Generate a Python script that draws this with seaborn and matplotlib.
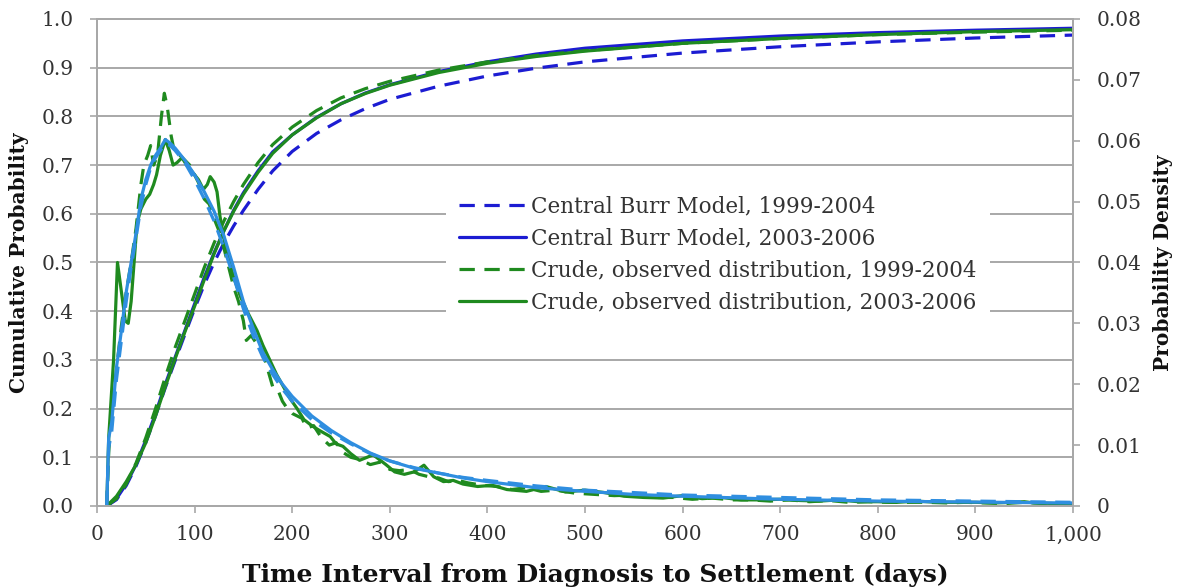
import numpy as np
import matplotlib
matplotlib.use("Agg")
import matplotlib.pyplot as plt
from matplotlib.ticker import FixedLocator, FuncFormatter
import seaborn as sns

# ---- cumulative probability (left axis) ----
cdf_days = [10, 20, 30, 40, 50, 60, 70, 80, 90, 100, 110, 120, 130, 140, 150,
            165, 180, 200, 225, 250, 275, 300, 350, 400, 450, 500, 600, 700,
            800, 900, 1000]
burr_cdf_1999_2004 = [0.0, 0.013, 0.042, 0.082, 0.13, 0.185, 0.243, 0.298,
                      0.352, 0.405, 0.455, 0.5, 0.54, 0.575, 0.607, 0.65,
                      0.688, 0.728, 0.765, 0.793, 0.816, 0.835, 0.862, 0.883,
                      0.899, 0.912, 0.93, 0.943, 0.953, 0.961, 0.967]
burr_cdf_2003_2006 = [0.0, 0.015, 0.045, 0.085, 0.135, 0.19, 0.25, 0.305,
                      0.36, 0.415, 0.47, 0.52, 0.565, 0.607, 0.643, 0.688,
                      0.727, 0.762, 0.798, 0.826, 0.848, 0.865, 0.892, 0.912,
                      0.928, 0.94, 0.955, 0.965, 0.972, 0.977, 0.981]
obs_cdf_1999_2004 = [0.0, 0.015, 0.045, 0.088, 0.14, 0.2, 0.265, 0.325, 0.38,
                     0.435, 0.49, 0.54, 0.585, 0.625, 0.66, 0.705, 0.742,
                     0.778, 0.812, 0.838, 0.857, 0.872, 0.895, 0.912, 0.925,
                     0.935, 0.95, 0.96, 0.968, 0.973, 0.977]
obs_cdf_2003_2006 = [0.0, 0.02, 0.05, 0.085, 0.13, 0.185, 0.245, 0.302, 0.357,
                     0.41, 0.465, 0.518, 0.565, 0.605, 0.64, 0.685, 0.724,
                     0.762, 0.797, 0.826, 0.847, 0.864, 0.89, 0.909, 0.923,
                     0.934, 0.95, 0.96, 0.968, 0.974, 0.978]

# ---- probability density (right axis) ----
pdf_days = [10, 12, 15, 20, 25, 30, 35, 40, 45, 50, 55, 60, 65, 70, 75, 80,
            90, 100, 110, 120, 130, 140, 150, 160, 170, 180, 190, 200, 220,
            240, 260, 280, 300, 325, 350, 375, 400, 450, 500, 550, 600, 700,
            800, 900, 1000]
burr_pdf_1999_2004 = [0.0, 0.0096, 0.012, 0.0208, 0.0272, 0.0336, 0.0392,
                      0.044, 0.0492, 0.0528, 0.0556, 0.0572, 0.0584, 0.0596,
                      0.0592, 0.0584, 0.0564, 0.0536, 0.0504, 0.0468, 0.0424,
                      0.0376, 0.0324, 0.028, 0.0244, 0.0216, 0.0192, 0.0172,
                      0.0142, 0.012, 0.0102, 0.0086, 0.0074, 0.0063, 0.0054,
                      0.0047, 0.0042, 0.0033, 0.0026, 0.0022, 0.0018, 0.0014,
                      0.001, 0.0008, 0.0006]
burr_pdf_2003_2006 = [0.0, 0.0112, 0.0136, 0.0228, 0.0288, 0.0352, 0.04,
                      0.0448, 0.0504, 0.0536, 0.056, 0.0576, 0.0588, 0.0602,
                      0.0596, 0.0588, 0.0568, 0.0544, 0.0516, 0.0484, 0.0444,
                      0.0392, 0.0336, 0.0292, 0.0252, 0.0224, 0.02, 0.018,
                      0.0148, 0.0124, 0.0104, 0.0087, 0.0074, 0.0062, 0.0054,
                      0.0046, 0.004, 0.003, 0.0024, 0.0019, 0.0016, 0.0011,
                      0.0008, 0.00064, 0.00048]

obs_days_1999_2004 = [10, 12, 15, 20, 25, 30, 35, 40, 45, 48, 52, 55, 58, 62,
                      66, 69, 72, 76, 80, 85, 90, 95, 100, 105, 110, 115, 120,
                      125, 130, 135, 140, 145, 150, 153, 158, 163, 168, 175,
                      180, 185, 190, 195, 200, 210, 215, 222, 230, 238, 245,
                      252, 260, 270, 280, 290, 300, 310, 320, 330, 340, 350,
                      360, 370, 380, 395, 410, 425, 440, 455, 470, 490, 510,
                      530, 550, 570, 590, 610, 630, 650, 670, 690, 710, 730,
                      750, 770, 790, 810, 830, 850, 870, 890, 910, 930, 950,
                      970, 1000]
obs_pdf_1999_2004 = [0.0, 0.0088, 0.016, 0.0224, 0.0296, 0.0352, 0.04,
                     0.0456, 0.0528, 0.056, 0.0576, 0.0592, 0.056, 0.0576,
                     0.064, 0.0678, 0.0656, 0.0608, 0.0576, 0.0576, 0.0568,
                     0.056, 0.0544, 0.0528, 0.0504, 0.0496, 0.0472, 0.0452,
                     0.0424, 0.0392, 0.036, 0.0336, 0.0304, 0.0272, 0.028,
                     0.0268, 0.0264, 0.0224, 0.0196, 0.0192, 0.0172, 0.016,
                     0.0152, 0.0144, 0.0128, 0.0132, 0.0112, 0.01, 0.0104,
                     0.0088, 0.008, 0.0076, 0.0068, 0.0072, 0.006, 0.0058,
                     0.006, 0.0052, 0.0048, 0.0046, 0.004, 0.0042, 0.0038,
                     0.0034, 0.0032, 0.0027, 0.003, 0.0024, 0.0026, 0.0021,
                     0.0019, 0.0017, 0.0018, 0.0014, 0.0014, 0.0011, 0.0013,
                     0.001, 0.001, 0.0008, 0.001, 0.0007, 0.0009, 0.0006,
                     0.0007, 0.0006, 0.0006, 0.0006, 0.0005, 0.0006, 0.0005,
                     0.0004, 0.0006, 0.0004, 0.0004]

obs_days_2003_2006 = [10, 12, 17, 21, 25, 29, 32, 35, 38, 41, 45, 50, 54, 58,
                      61, 65, 70, 74, 78, 82, 87, 92, 98, 104, 109, 113, 116,
                      120, 123, 126, 130, 133, 140, 147, 155, 164, 170, 177,
                      184, 191, 198, 205, 212, 220, 228, 239, 245, 252, 260,
                      269, 283, 296, 305, 315, 325, 335, 345, 355, 365, 375,
                      390, 405, 420, 440, 460, 480, 500, 520, 540, 560, 580,
                      600, 620, 640, 660, 680, 700, 720, 740, 760, 780, 800,
                      820, 840, 860, 880, 900, 920, 940, 950, 960, 980, 1000]
obs_pdf_2003_2006 = [0.0, 0.0112, 0.024, 0.04, 0.0352, 0.0304, 0.03, 0.0336,
                     0.04, 0.0464, 0.0488, 0.0504, 0.0512, 0.0528, 0.0544,
                     0.0576, 0.0602, 0.0584, 0.056, 0.0564, 0.0572, 0.056,
                     0.0548, 0.0536, 0.052, 0.0528, 0.0541, 0.0532, 0.0516,
                     0.0476, 0.044, 0.0416, 0.0376, 0.0344, 0.0316, 0.0288,
                     0.0264, 0.024, 0.0216, 0.0196, 0.0176, 0.016, 0.0142,
                     0.0132, 0.0124, 0.0114, 0.0102, 0.0098, 0.0086, 0.0075,
                     0.0084, 0.0068, 0.0056, 0.0052, 0.0056, 0.0067, 0.0048,
                     0.004, 0.0042, 0.0036, 0.0032, 0.0034, 0.0027, 0.0024,
                     0.0032, 0.0023, 0.0026, 0.0022, 0.0016, 0.0014, 0.0013,
                     0.0017, 0.0012, 0.0014, 0.001, 0.001, 0.0011, 0.0009,
                     0.0008, 0.001, 0.0007, 0.0007, 0.0006, 0.0008, 0.0006,
                     0.0006, 0.0006, 0.0005, 0.0006, 0.0007, 0.0005, 0.0004,
                     0.0004]

legend_labels = ["Central Burr Model, 1999-2004",
                 "Central Burr Model, 2003-2006",
                 "Crude, observed distribution, 1999-2004",
                 "Crude, observed distribution, 2003-2006"]
x_ticks = [0, 100, 200, 300, 400, 500, 600, 700, 800, 900, 1000]
left_ticks = [0.0, 0.1, 0.2, 0.3, 0.4, 0.5, 0.6, 0.7, 0.8, 0.9, 1.0]
right_ticks = [0, 0.01, 0.02, 0.03, 0.04, 0.05, 0.06, 0.07, 0.08]

# ---- style ----
sns.set_theme(style="white")
plt.rcParams["font.family"] = ["DejaVu Serif"]
plt.rcParams["axes.unicode_minus"] = False

DARK_BLUE = "#1c1cd2"
LIGHT_BLUE = "#2f8ee0"
GREEN = "#1f8a1f"
GRID = "#a8a8a8"
TEXT = "#333333"
LW = 2.3
DASH = (0, (4.8, 3.0))

fig = plt.figure(figsize=(11.9, 5.88), dpi=100)
ax = fig.add_axes([0.0815, 0.1395, 0.8202, 0.8282])
ax2 = ax.twinx()

# cumulative curves
sns.lineplot(x=cdf_days, y=burr_cdf_1999_2004, ax=ax, color=DARK_BLUE,
             lw=LW, linestyle=DASH, label=legend_labels[0])
sns.lineplot(x=cdf_days, y=burr_cdf_2003_2006, ax=ax, color=DARK_BLUE,
             lw=LW, label=legend_labels[1])
sns.lineplot(x=cdf_days, y=obs_cdf_1999_2004, ax=ax, color=GREEN,
             lw=LW, linestyle=DASH, label=legend_labels[2])
sns.lineplot(x=cdf_days, y=obs_cdf_2003_2006, ax=ax, color=GREEN,
             lw=LW, label=legend_labels[3])

# density curves
sns.lineplot(x=obs_days_1999_2004, y=obs_pdf_1999_2004, ax=ax2, color=GREEN,
             lw=LW, linestyle=DASH, legend=False)
sns.lineplot(x=obs_days_2003_2006, y=obs_pdf_2003_2006, ax=ax2, color=GREEN,
             lw=LW, legend=False)
sns.lineplot(x=pdf_days, y=burr_pdf_2003_2006, ax=ax2, color=LIGHT_BLUE,
             lw=LW, legend=False)
sns.lineplot(x=pdf_days, y=burr_pdf_1999_2004, ax=ax2, color=LIGHT_BLUE,
             lw=LW, linestyle=DASH, legend=False)

# axes ranges and ticks
ax.set_xlim(0, 1000)
ax.set_ylim(0, 1.0)
ax2.set_ylim(0, 0.08)
ax.xaxis.set_major_locator(FixedLocator(x_ticks))
ax.xaxis.set_major_formatter(FuncFormatter(lambda v, p: f"{int(v):,}"))
ax.yaxis.set_major_locator(FixedLocator(left_ticks))
ax.yaxis.set_major_formatter(FuncFormatter(lambda v, p: f"{v:.1f}"))
ax2.yaxis.set_major_locator(FixedLocator(right_ticks))
ax2.yaxis.set_major_formatter(
    FuncFormatter(lambda v, p: "0" if abs(v) < 1e-9 else f"{v:.2f}"))

ax.yaxis.grid(True, color=GRID, lw=1.4)
ax.xaxis.grid(False)
ax.set_axisbelow(True)

for a in (ax, ax2):
    for side in ("left", "right", "bottom", "top"):
        a.spines[side].set_color(GRID)
        a.spines[side].set_linewidth(1.4)

ax.tick_params(axis="both", which="major", direction="out", length=5,
               width=1.2, color=GRID, labelsize=14.5, labelcolor=TEXT)
ax.tick_params(axis="y", pad=12, left=True)
ax.tick_params(axis="x", pad=9, bottom=True)
ax2.tick_params(axis="y", direction="out", length=5, width=1.2, color=GRID,
                labelsize=14.5, labelcolor=TEXT, pad=12, right=True)

ax.set_xlabel("Time Interval from Diagnosis to Settlement (days)",
              fontsize=18, fontweight="bold", color="#111111")
ax.xaxis.set_label_coords(0.511, -0.118)
ax.set_ylabel("Cumulative Probability", fontsize=14.5, fontweight="bold",
              color="#111111")
ax.yaxis.set_label_coords(-0.07, 0.5)
ax2.set_ylabel("Probability Density", fontsize=14.5, fontweight="bold",
               color="#111111")
ax2.yaxis.set_label_coords(1.082, 0.5)

# legend on a plain white panel over the grid
handles, labels = ax.get_legend_handles_labels()
ax.get_legend().remove()
leg = fig.legend(handles, labels, loc="upper left",
                 bbox_to_anchor=(0.366, 0.708), frameon=True,
                 facecolor="white", edgecolor="none", framealpha=1.0,
                 fontsize=15.5, handlelength=3.1, handletextpad=0.25,
                 labelspacing=0.47, borderpad=0.6, labelcolor=TEXT)

fig.savefig("out.png", dpi=100)
